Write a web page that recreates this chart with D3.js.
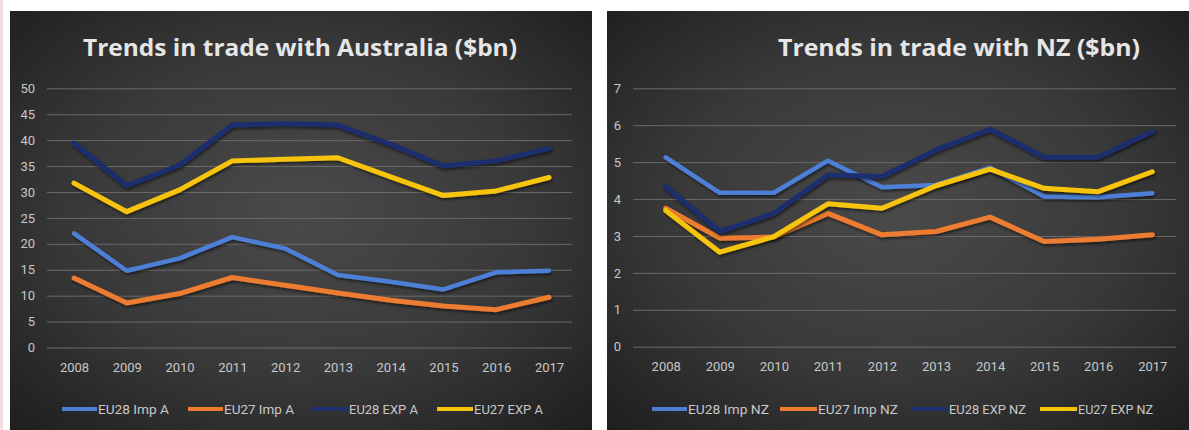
<!DOCTYPE html>
<html>
<head>
<meta charset="utf-8">
<script src="https://cdn.jsdelivr.net/npm/d3@7"></script>
<style>
  html, body { margin: 0; padding: 0; background: #ffffff; }
  svg { display: block; }
</style>
</head>
<body>
<svg id="chart" width="1189" height="430"></svg>
<script>
// ---------- DATA ----------
const years = ["2008","2009","2010","2011","2012","2013","2014","2015","2016","2017"];

const ausTitle = "Trends in trade with Australia ($bn)";
const ausNames = ["EU28 Imp A", "EU27 Imp A", "EU28 EXP A", "EU27 EXP A"];
const ausEU28Imp = [22.0, 14.8, 17.2, 21.3, 19.1, 14.0, 12.7, 11.2, 14.5, 14.8];
const ausEU27Imp = [13.4, 8.6, 10.4, 13.5, 12.0, 10.5, 9.1, 8.0, 7.3, 9.7];
const ausEU28Exp = [39.4, 31.2, 35.2, 42.9, 43.2, 42.9, 39.2, 35.0, 36.0, 38.4];
const ausEU27Exp = [31.7, 26.2, 30.4, 36.0, 36.3, 36.6, 32.9, 29.3, 30.2, 32.8];
const ausTicks = [0, 5, 10, 15, 20, 25, 30, 35, 40, 45, 50];

const nzTitle = "Trends in trade with NZ ($bn)";
const nzNames = ["EU28 Imp NZ", "EU27 Imp NZ", "EU28 EXP NZ", "EU27 EXP NZ"];
const nzEU28Imp = [5.13, 4.17, 4.17, 5.04, 4.32, 4.38, 4.85, 4.07, 4.05, 4.16];
const nzEU27Imp = [3.75, 2.94, 2.97, 3.61, 3.03, 3.12, 3.51, 2.85, 2.91, 3.03];
const nzEU28Exp = [4.34, 3.12, 3.61, 4.65, 4.61, 5.33, 5.89, 5.13, 5.13, 5.83];
const nzEU27Exp = [3.69, 2.56, 2.98, 3.87, 3.75, 4.36, 4.81, 4.29, 4.20, 4.74];
const nzTicks = [0, 1, 2, 3, 4, 5, 6, 7];

const seriesColors = ["#4d7fd6", "#ec7b30", "#1c2f6e", "#f6c40c"];

// ---------- LAYOUT ----------
const svg = d3.select("#chart");
const FONT = "'Liberation Sans Narrow', 'Roboto', 'DejaVu Sans Condensed', sans-serif";

const defs = svg.append("defs");
const grad = defs.append("radialGradient")
  .attr("id", "bg").attr("cx", "50%").attr("cy", "48%").attr("r", "70%");
grad.append("stop").attr("offset", "0%").attr("stop-color", "#4a4a4a");
grad.append("stop").attr("offset", "55%").attr("stop-color", "#393939");
grad.append("stop").attr("offset", "100%").attr("stop-color", "#202020");

const shadow = defs.append("filter").attr("id", "sh")
  .attr("x", "-10%").attr("y", "-20%").attr("width", "120%").attr("height", "140%");
shadow.append("feDropShadow").attr("dx", 1).attr("dy", 2).attr("stdDeviation", 1.5)
  .attr("flood-color", "#000").attr("flood-opacity", 0.55);

// faint pink strip at far left
svg.append("rect").attr("x", 0).attr("y", 0).attr("width", 3).attr("height", 430)
  .attr("fill", "#f7dede");

const panels = [
  {
    title: ausTitle, names: ausNames, series: [ausEU28Imp, ausEU27Imp, ausEU28Exp, ausEU27Exp],
    ticks: ausTicks, yMax: 50,
    box: [10, 11, 582, 419],
    xRange: [74, 549], yRange: [347.5, 88.3], gridX: [47, 572],
    titleX: 300, titleW: 434,
    legend: [[62, 97, 71], [188, 223, 70], [312, 348, 69], [437, 473, 69]]
  },
  {
    title: nzTitle, names: nzNames, series: [nzEU28Imp, nzEU27Imp, nzEU28Exp, nzEU27Exp],
    ticks: nzTicks, yMax: 7,
    box: [607, 11, 582, 419],
    xRange: [665.7, 1152.3], yRange: [346.7, 88.3], gridX: [633, 1176],
    titleX: 959, titleW: 362,
    legend: [[652, 687, 81], [780, 817, 80], [912, 948, 77], [1040, 1077, 75]]
  }
];

panels.forEach(p => {
  const g = svg.append("g");
  const [bx, by, bw, bh] = p.box;
  g.append("rect").attr("x", bx).attr("y", by).attr("width", bw).attr("height", bh)
    .attr("fill", "url(#bg)");

  // title
  g.append("text")
    .attr("x", p.titleX).attr("y", 56)
    .attr("text-anchor", "middle")
    .attr("font-family", "'Open Sans', 'Noto Sans', sans-serif")
    .attr("font-weight", "bold")
    .attr("font-size", 23)
    .attr("fill", "#e6e6e6")
    .attr("textLength", p.titleW)
    .attr("lengthAdjust", "spacingAndGlyphs")
    .text(p.title);

  const x = d3.scalePoint().domain(years).range(p.xRange);
  const y = d3.scaleLinear().domain([0, p.yMax]).range(p.yRange);

  // y axis with gridlines
  const yAxis = g.append("g")
    .attr("transform", `translate(${p.gridX[0]},0)`)
    .call(d3.axisLeft(y).tickValues(p.ticks).tickFormat(d3.format("d"))
      .tickSize(-(p.gridX[1] - p.gridX[0])).tickPadding(12));
  yAxis.select(".domain").remove();
  yAxis.selectAll(".tick line").attr("stroke", "#6a6a6a").attr("stroke-width", 1);
  yAxis.selectAll(".tick text").attr("fill", "#c8c8c8")
    .attr("font-family", FONT).attr("font-size", 13);

  // x axis
  const xAxis = g.append("g")
    .attr("transform", `translate(0,${p.yRange[0]})`)
    .call(d3.axisBottom(x).tickSize(0).tickPadding(15));
  xAxis.select(".domain").remove();
  xAxis.selectAll(".tick text").attr("fill", "#c8c8c8")
    .attr("font-family", FONT).attr("font-size", 13);

  // lines
  const line = d3.line().x((d, i) => x(years[i])).y(d => y(d));
  p.series.forEach((s, k) => {
    g.append("path")
      .datum(s)
      .attr("d", line)
      .attr("fill", "none")
      .attr("stroke", seriesColors[k])
      .attr("stroke-width", k === 0 ? 4.5 : 5)
      .attr("stroke-linejoin", "round")
      .attr("stroke-linecap", "round")
      .attr("filter", "url(#sh)");
  });

  // legend
  p.names.forEach((n, k) => {
    const [x0, x1, tw] = p.legend[k];
    g.append("line")
      .attr("x1", x0).attr("x2", x1).attr("y1", 409).attr("y2", 409)
      .attr("stroke", seriesColors[k]).attr("stroke-width", 4);
    g.append("text")
      .attr("x", x1 + 1).attr("y", 413.5)
      .attr("fill", "#c8c8c8")
      .attr("font-family", FONT).attr("font-size", 13)
      .attr("textLength", tw).attr("lengthAdjust", "spacingAndGlyphs")
      .text(n);
  });
});
</script>
</body>
</html>
